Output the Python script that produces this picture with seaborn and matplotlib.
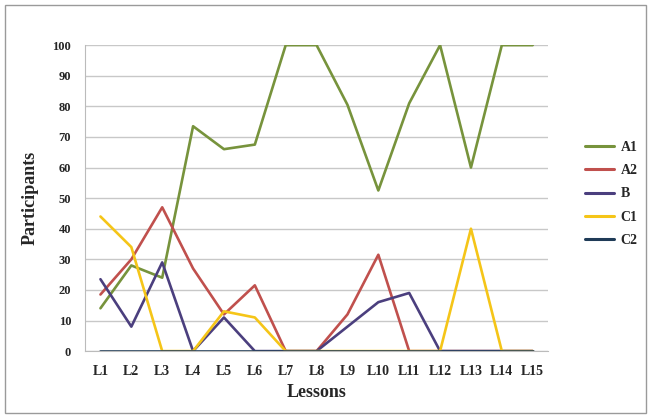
import matplotlib
matplotlib.use("Agg")
import matplotlib.pyplot as plt
from matplotlib.patches import Rectangle
import pandas as pd
import seaborn as sns

# Data
lessons = ["L1", "L2", "L3", "L4", "L5", "L6", "L7", "L8", "L9", "L10", "L11", "L12", "L13", "L14", "L15"]
a1 = [14, 28, 24, 73.5, 66, 67.5, 100, 100, 80.5, 52.5, 81, 100, 60, 100, 100]
a2 = [18.5, 30, 47, 27, 12, 21.5, 0, 0, 12, 31.5, 0, 0, 0, 0, 0]
b = [23.5, 8, 29, 0, 11, 0, 0, 0, 8, 16, 19, 0, 0, 0, 0]
c1 = [44, 34, 0, 0, 13, 11, 0, 0, 0, 0, 0, 0, 40, 0, 0]
c2 = [0] * 15

series = {"A1": a1, "A2": a2, "B": b, "C1": c1, "C2": c2}
colors = {"A1": "#77933C", "A2": "#C0504D", "B": "#4B3F7E", "C1": "#F5C518", "C2": "#1F3B57"}

rows = []
for name, vals in series.items():
    for i, v in enumerate(vals):
        rows.append({"pos": i, "lesson": lessons[i], "series": name, "value": v})
df = pd.DataFrame(rows)

sns.set_style("white")
plt.rcParams["font.family"] = ["Liberation Serif", "DejaVu Serif"]

fig = plt.figure(figsize=(6.51, 4.18), dpi=100)
ax = fig.add_axes([0.1306, 0.160, 0.7114, 0.732])

sns.lineplot(data=df, x="pos", y="value", hue="series", palette=colors,
             linewidth=1.9, ax=ax, legend=False, sort=False)

ax.set_xlim(-0.5, len(lessons) - 0.5)
ax.set_ylim(0, 100)
ax.set_yticks(range(0, 101, 10))
ax.yaxis.grid(True, color="#c8c8c8", linewidth=1)
ax.xaxis.grid(False)
ax.set_axisbelow(True)

ax.set_xticks(range(len(lessons)))
ax.set_xticklabels(lessons, fontsize=10, fontweight="bold")
ax.set_xticks([i - 0.5 for i in range(len(lessons) + 1)], minor=True)
ax.tick_params(axis="x", which="major", length=0, pad=10)
ax.tick_params(axis="x", which="minor", length=4, color="#bbbbbb", direction="out")
ax.tick_params(axis="y", length=4, color="#c8c8c8", labelsize=9, pad=6)
for lab in ax.get_yticklabels():
    lab.set_fontweight("bold")

for side in ["top", "right"]:
    ax.spines[side].set_visible(False)
for side in ["left", "bottom"]:
    ax.spines[side].set_color("#bbbbbb")

ax.set_xlabel("Lessons", fontsize=13, fontweight="bold", labelpad=4)
ax.set_ylabel("Participants", fontsize=13, fontweight="bold", labelpad=10)

handles = [plt.Line2D([], [], color=colors[n], linewidth=2.2) for n in series]
fig.legend(handles, list(series.keys()), loc="center left", bbox_to_anchor=(0.898, 0.536),
           frameon=False, handlelength=2.1, handletextpad=0.5, labelspacing=0.75,
           borderpad=0, borderaxespad=0,
           prop={"weight": "bold", "size": 10})

fig.patches.append(Rectangle((0.008, 0.012), 0.984, 0.976, transform=fig.transFigure,
                             fill=False, edgecolor="#9a9a9a", linewidth=1))

fig.savefig("out.png", dpi=100)
